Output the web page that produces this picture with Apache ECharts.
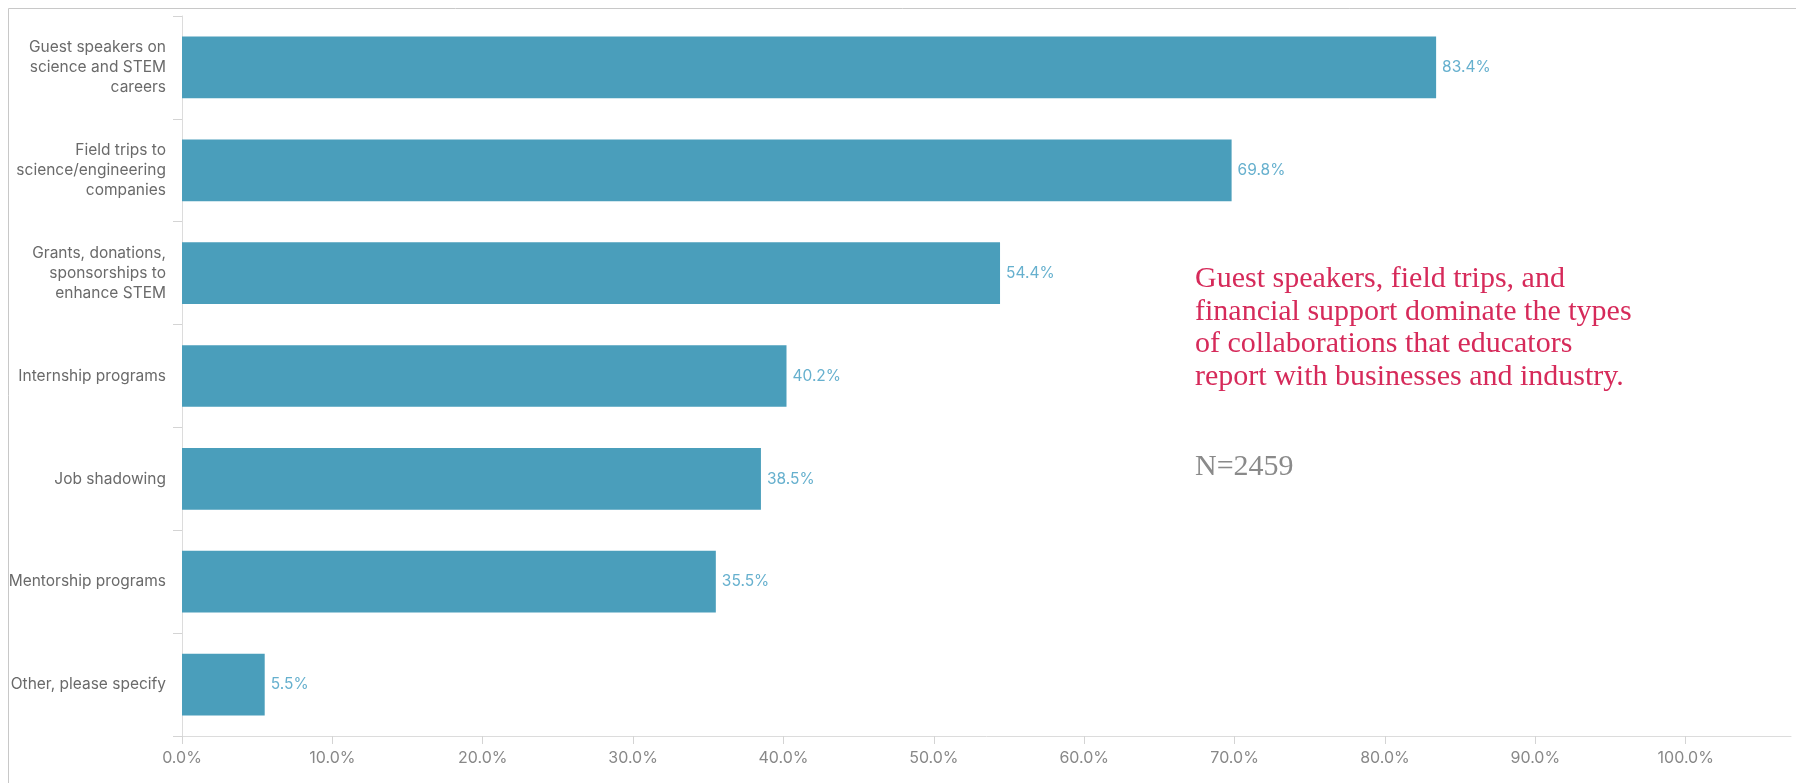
<!DOCTYPE html>
<html>
<head>
<meta charset="utf-8">
<title>Types of business collaborations reported by educators</title>
<script src="https://cdn.jsdelivr.net/npm/echarts@6/dist/echarts.min.js"></script>
<style>
  html, body { margin: 0; padding: 0; background: #ffffff; }
  #chart { width: 1796px; height: 783px; }
</style>
</head>
<body>
<div id="chart"></div>
<script>
// Collaboration types (top to bottom) and share of educators reporting each
const categories = [
  'Guest speakers on\nscience and STEM\ncareers',
  'Field trips to\nscience/engineering\ncompanies',
  'Grants, donations,\nsponsorships to\nenhance STEM',
  'Internship programs',
  'Job shadowing',
  'Mentorship programs',
  'Other, please specify'
];
const percentages = [83.4, 69.8, 54.4, 40.2, 38.5, 35.5, 5.5];

// Value-axis ticks (percent)
const xTicks = [0, 10, 20, 30, 40, 50, 60, 70, 80, 90, 100];

const noteLines = [
  'Guest speakers, field trips, and',
  'financial support dominate the types',
  'of collaborations that educators',
  'report with businesses and industry.'
];
const sampleNote = 'N=2459';

const sansFont = 'Inter, "Noto Sans", sans-serif';
const serifFont = '"Liberation Serif", "DejaVu Serif", serif';

const chart = echarts.init(document.getElementById('chart'), null, { renderer: 'canvas' });

chart.setOption({
  animation: false,
  backgroundColor: '#ffffff',
  grid: { left: 182, right: 5, top: 16, bottom: 47, containLabel: false },
  xAxis: {
    type: 'value',
    min: 0,
    max: 107,
    axisLine: { show: true, lineStyle: { color: '#dcdcdc', width: 1 } },
    axisTick: {
      show: true,
      length: 8,
      customValues: xTicks,
      lineStyle: { color: '#d4d4d4' }
    },
    axisLabel: {
      customValues: xTicks,
      margin: 14,
      color: '#888888',
      fontFamily: sansFont,
      fontSize: 16,
      formatter: v => v.toFixed(1) + '%'
    },
    splitLine: { show: false }
  },
  yAxis: {
    type: 'category',
    data: categories,
    inverse: true,
    axisLine: { show: true, lineStyle: { color: '#dcdcdc', width: 1 } },
    axisTick: { show: true, length: 9, alignWithLabel: false, lineStyle: { color: '#d4d4d4' } },
    axisLabel: {
      margin: 16,
      color: '#6a6a6a',
      fontFamily: sansFont,
      fontSize: 15.5,
      lineHeight: 20,
      align: 'right'
    },
    splitLine: { show: false }
  },
  series: [{
    type: 'bar',
    data: percentages,
    barCategoryGap: '40%',
    itemStyle: { color: '#4a9ebb' },
    label: {
      show: true,
      position: 'right',
      distance: 6,
      color: '#66b0ce',
      fontFamily: sansFont,
      fontSize: 15.5,
      formatter: p => p.value.toFixed(1) + '%'
    }
  }],
  graphic: [
    {
      type: 'polyline',
      silent: true,
      shape: { points: [[8.5, 783], [8.5, 8.5], [1796, 8.5]] },
      style: { stroke: '#c8c8c8', lineWidth: 1, fill: null }
    },
    {
      type: 'text',
      left: 1195,
      top: 263,
      silent: true,
      style: {
        text: noteLines.join('\n'),
        fill: '#d62a5a',
        font: '30px ' + serifFont,
        lineHeight: 32.5,
        textAlign: 'left',
        textVerticalAlign: 'top'
      }
    },
    {
      type: 'text',
      left: 1195,
      top: 452,
      silent: true,
      style: {
        text: sampleNote,
        fill: '#8a8a8a',
        font: '30px ' + serifFont,
        lineHeight: 31,
        textAlign: 'left',
        textVerticalAlign: 'top'
      }
    }
  ]
});
</script>
</body>
</html>
